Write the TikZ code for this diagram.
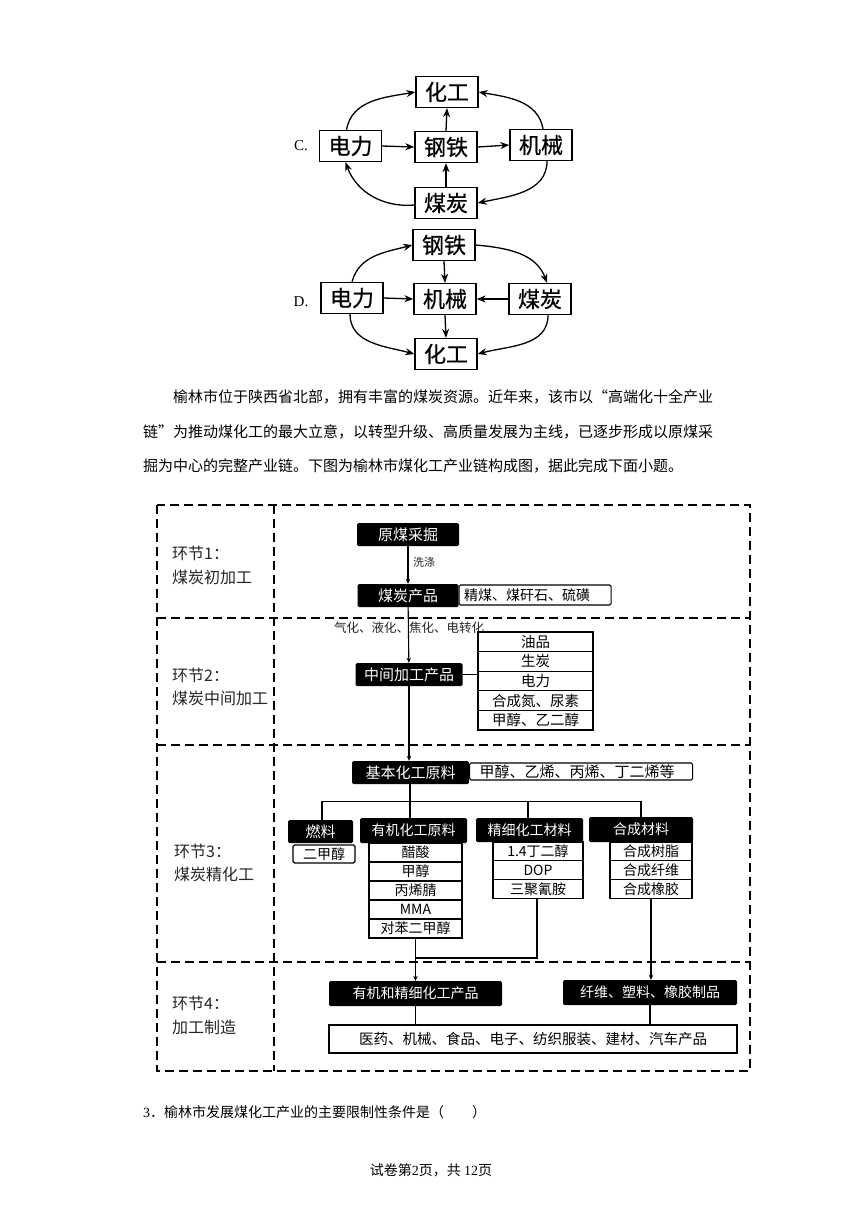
\documentclass[tikz,border=0pt]{standalone}
\usepackage{fontspec}
\setmainfont{Noto Sans CJK SC}
\newfontfamily\cjkb[FakeBold=0.6]{Noto Sans CJK SC}
\newfontfamily\tms{Liberation Serif}
\usetikzlibrary{arrows.meta}
\newcommand\fsz[1]{\fontsize{#1}{#1}\selectfont}
\begin{document}
\begin{tikzpicture}[x=1pt,y=1pt,
  tb/.style={draw, line width=1.3pt, minimum width=62pt, minimum height=31pt, inner sep=0pt, font=\cjkb\fsz{22}},
  arr/.style={line width=1.3pt, -{Stealth[length=9pt,width=7pt]}},
  blk/.style={fill=black, text=white, rounded corners=1.5pt, inner sep=0pt, font=\fsz{15}},
  wb/.style={draw, line width=1.1pt, inner sep=0pt, font=\fsz{14}},
  ln/.style={line width=1.1pt},
  farr/.style={line width=1.1pt, -{Stealth[length=5pt,width=4.5pt]}},
  dsh/.style={line width=1.8pt, dash pattern=on 9pt off 5pt},
  lbl/.style={anchor=west, inner sep=0pt, font=\fsz{16}, text=black!85},
  para/.style={anchor=west, inner sep=0pt, font=\fsz{15}},
]
\fill[white] (0,0) rectangle (860,-1216);
\useasboundingbox (0,0) rectangle (860,-1216);

% ---------- Option C ----------
\node[inner sep=0pt, font=\tms\fsz{15}] (lc) at (301,-146) {C.};
\node[tb] (chg) at (447,-92) {化工};
\node[tb] (cdl) at (350.5,-146) {电力};
\node[tb] (cgt) at (446,-147) {钢铁};
\node[tb] (cjx) at (541,-145) {机械};
\node[tb] (cmt) at (446,-203) {煤炭};
\draw[arr] (cdl.east) -- (cgt.west);
\draw[arr] (cgt.east) -- (cjx.west);
\draw[arr] (cgt.north) -- (chg.south);
\draw[arr] (cmt.north) -- (cgt.south);
\draw[arr] ([xshift=-4pt]cdl.north) to[out=80,in=190] (chg.west);
\draw[arr] ([xshift=2pt]cjx.north) to[out=100,in=-10] (chg.east);
\draw[arr] ([yshift=-2pt]cmt.west) to[out=185,in=-70] ([xshift=-5pt]cdl.south);
\draw[arr] ([xshift=6pt]cjx.south) to[out=-90,in=12] (cmt.east);

% ---------- Option D ----------
\node[inner sep=0pt, font=\tms\fsz{15}] (ld) at (301,-302) {D.};
\node[tb] (dgt) at (444,-245) {钢铁};
\node[tb] (ddl) at (352,-298) {电力};
\node[tb] (djx) at (445,-299) {机械};
\node[tb] (dmt) at (540,-299) {煤炭};
\node[tb] (dhg) at (446,-354) {化工};
\draw[arr] (ddl.east) -- (djx.west);
\draw[arr] (dmt.west) -- (djx.east);
\draw[arr] (dgt.south) -- (djx.north);
\draw[arr] (djx.south) -- (dhg.north);
\draw[arr] (ddl.north) to[out=75,in=195] (dgt.west);
\draw[arr] (dgt.east) to[out=-5,in=110] ([xshift=7pt]dmt.north);
\draw[arr] ([xshift=-2pt]ddl.south) to[out=-90,in=165] (dhg.west);
\draw[arr] ([xshift=8pt]dmt.south) to[out=-90,in=15] (dhg.east);

% ---------- paragraph ----------
\node[para] (p1) at (173,-397) {榆林市位于陕西省北部，拥有丰富的煤炭资源。近年来，该市以“高端化十全产业};
\node[para] (p2) at (143,-432) {链”为推动煤化工的最大立意，以转型升级、高质量发展为主线，已逐步形成以原煤采};
\node[para] (p3) at (143,-466) {掘为中心的完整产业链。下图为榆林市煤化工产业链构成图，据此完成下面小题。};

% ---------- frame ----------
\draw[dsh] (157,-505) rectangle (750,-1071);
\draw[dsh] (274,-505) -- (274,-1071);
\draw[dsh] (157,-618) -- (750,-618);
\draw[dsh] (157,-745) -- (750,-745);
\draw[dsh] (157,-962) -- (750,-962);

\node[lbl] (s1a) at (172,-553) {环节1：};
\node[lbl] (s1b) at (172,-577) {煤炭初加工};
\node[lbl] (s2a) at (172,-675) {环节2：};
\node[lbl] (s2b) at (172,-698) {煤炭中间加工};
\node[lbl] (s3a) at (174,-851) {环节3：};
\node[lbl] (s3b) at (174,-874) {煤炭精化工};
\node[lbl] (s4a) at (172,-1003) {环节4：};
\node[lbl] (s4b) at (172,-1027) {加工制造};

% ---------- stage 1 ----------
\node[blk, minimum width=102pt, minimum height=23pt] (ymc) at (408,-534.5) {原煤采掘};
\node[blk, minimum width=101pt, minimum height=23pt] (mtcp) at (408,-595.5) {煤炭产品};
\node[wb, rounded corners=1.5pt, anchor=west, minimum height=20pt, text width=142pt, inner xsep=5pt, align=left] (mtl) at (458.5,-595) {精煤、煤矸石、硫磺};
\draw[farr] (ymc) -- (mtcp);
\node[anchor=west, inner sep=0pt, font=\fsz{11}, text=black!85] (xd) at (413,-562) {洗涤};

% ---------- stage 2 ----------
\node[blk, minimum width=107pt, minimum height=23pt] (zjcp) at (409,-674.5) {中间加工产品};
\draw[farr] (mtcp) -- (zjcp);
\node[inner sep=0pt, font=\fsz{12.5}, text=black!85] (qh) at (409,-628) {气化、液化、焦化、电转化};
\foreach \i/\t [count=\k] in {0/油品,1/生炭,2/电力,3/合成氮、尿素,4/甲醇、乙二醇}{
  \node[wb, font=\fsz{14.5}, minimum width=115pt, minimum height=19.6pt] (m\k) at (535.5,-641.8-19.6*\i) {\t};
}
\draw[ln] (zjcp.east) -- (zjcp.east -| m1.west);

% ---------- stage 3 ----------
\node[blk, minimum width=117pt, minimum height=23pt] (jbhg) at (410.5,-772.5) {基本化工原料};
\node[wb, rounded corners=1.5pt, anchor=west, minimum height=17pt, text width=203pt, inner xsep=10pt, align=left, font=\fsz{15}] (jbl) at (469,-771.5) {甲醇、乙烯、丙烯、丁二烯等};
\draw[farr] (zjcp.south) -- (zjcp.south |- jbhg.north);

\node[blk, minimum width=65pt, minimum height=23pt] (rl) at (320.5,-831.5) {燃料};
\node[wb, rounded corners=1.5pt, minimum width=62pt, minimum height=18pt] (rl1) at (324,-854) {二甲醇};
\node[blk, minimum width=107pt, minimum height=25pt, font=\fsz{14}] (yj) at (413.5,-830.5) {有机化工原料};
\node[blk, minimum width=107pt, minimum height=24pt, font=\fsz{14}] (jx) at (529.5,-830) {精细化工材料};
\node[blk, minimum width=104pt, minimum height=25pt, font=\fsz{14}] (hc) at (641,-829.5) {合成材料};
\foreach \i/\t [count=\k] in {0/醋酸,1/甲醇,2/丙烯腈,3/MMA,4/对苯二甲醇}{
  \node[wb, minimum width=93pt, minimum height=19pt] (y\k) at (415.5,-852.5-19*\i) {\t};
}
\foreach \i/\t [count=\k] in {0/1.4丁二醇,1/DOP,2/三聚氰胺}{
  \node[wb, minimum width=90pt, minimum height=18.7pt] (j\k) at (538,-851.35-18.7*\i) {\t};
}
\foreach \i/\t [count=\k] in {0/合成树脂,1/合成纤维,2/合成橡胶}{
  \node[wb, minimum width=82pt, minimum height=18.7pt] (h\k) at (651,-851.35-18.7*\i) {\t};
}
\draw[ln] (jbhg.south -| 410,0) -- (410,-818);
\draw[ln] ([xshift=1.5pt]rl.north) -- ++(0,18) -| (hc.north);
\draw[ln] ([xshift=-1.5pt]jx.north) -- ++(0,16);

% ---------- stage 4 ----------
\node[blk, minimum width=173pt, minimum height=25pt, font=\fsz{14}] (ygcp) at (415.5,-993.5) {有机和精细化工产品};
\node[blk, minimum width=174pt, minimum height=25pt, font=\fsz{14}] (xwcp) at (650,-992.5) {纤维、塑料、橡胶制品};
\node[wb, font=\fsz{14.5}, minimum width=408pt, minimum height=28pt] (fin) at (533,-1039) {医药、机械、食品、电子、纺织服装、建材、汽车产品};
\draw[farr] (y5.south) -- (ygcp.north);
\draw[ln] ([xshift=-1pt]j3.south) |- (ygcp.north |- 0,-958);
\draw[farr] (h3.south) -- (h3.south |- xwcp.north);
\draw[ln] (ygcp.south) -- (ygcp.south |- fin.north);
\draw[ln] (xwcp.south) -- (xwcp.south |- fin.north);

% ---------- question & footer ----------
\node[para, font=\fsz{14}] (q) at (143,-1112) {{\tms 3}．榆林市发展煤化工产业的主要限制性条件是（\hspace{2em}）};
\node[inner sep=0pt, font=\fsz{14}] (ft) at (431,-1170) {试卷第{\tms 2}页，共 {\tms 12}页};
\end{tikzpicture}
\end{document}
